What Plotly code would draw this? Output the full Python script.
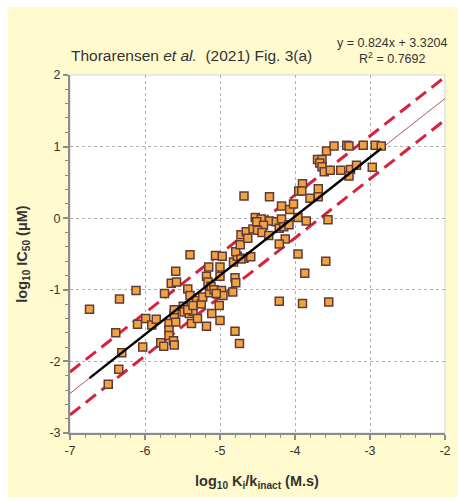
import plotly.graph_objects as go

# Data (log10 Ki/kinact, log10 IC50)
x_vals = [-6.74, -6.49, -6.35, -6.39, -6.34, -6.31, -6.12, -6.10, -6.03, -5.99,
          -5.91, -5.85, -5.79, -5.75, -5.74, -5.68, -5.68, -5.68, -5.62, -5.61,
          -5.59, -5.61, -5.61, -5.65, -5.58, -5.59, -5.40, -5.43, -5.40, -5.49,
          -5.48, -5.41, -5.36, -5.38, -5.31, -5.43, -5.36, -5.25, -5.23, -5.30,
          -5.18, -5.18, -5.15, -5.16, -5.14, -5.11, -5.12, -5.08, -5.06, -5.00,
          -5.00, -5.03, -4.97, -4.98, -5.01, -5.00, -4.96, -5.05, -4.83, -4.80,
          -4.79, -4.80, -4.74, -4.82, -4.77, -4.68, -4.59, -4.79, -4.72, -4.68,
          -4.73, -4.72, -4.65, -4.63, -4.56, -4.53, -4.45, -4.51, -4.34, -4.25,
          -4.18, -4.42, -4.50, -4.44, -4.21, -4.15, -4.08, -4.35, -4.13, -4.21,
          -4.34, -4.18, -4.07, -4.02, -4.21, -3.96, -3.87, -3.90, -3.59, -3.55,
          -3.96, -3.85, -3.56, -3.90, -3.95, -3.91, -3.69, -3.80, -3.69, -3.70,
          -3.64, -3.67, -3.64, -3.61, -3.53, -3.58, -3.48, -3.39, -3.31, -3.28,
          -3.26, -3.18, -3.28, -3.09, -2.97, -2.93, -2.85]
y_vals = [-1.27, -2.32, -2.11, -1.60, -1.13, -1.88, -1.01, -1.48, -1.80, -1.40,
          -1.49, -1.41, -1.74, -1.79, -1.05, -1.47, -1.56, -1.64, -1.71, -1.77,
          -1.45, -1.34, -1.28, -0.91, -0.89, -0.74, -0.51, -0.99, -1.08, -1.23,
          -1.31, -1.33, -1.30, -1.47, -1.15, -1.28, -1.22, -1.20, -1.10, -1.40,
          -1.51, -0.81, -0.68, -0.89, -1.04, -1.33, -0.95, -1.00, -0.52, -0.68,
          -0.81, -1.06, -0.53, -1.01, -1.22, -1.43, -1.08, -1.05, -1.03, -0.83,
          -0.90, -1.58, -1.75, -0.61, -0.53, -0.56, -0.54, -0.47, -0.57, 0.31,
          -0.37, -0.23, -0.19, -0.28, -0.15, 0.01, -0.01, -0.05, -0.04, -0.05,
          -0.01, -0.10, -0.17, -0.20, -0.14, -0.12, -0.09, -0.24, -0.29, -0.36,
          0.30, 0.17, 0.12, 0.20, -1.16, -0.50, -0.77, -1.19, -0.60, -1.17,
          0.01, -0.04, -0.02, 0.48, 0.38, 0.38, 0.41, 0.28, 0.30, 0.82,
          0.82, 0.77, 0.72, 0.65, 0.67, 0.94, 1.01, 0.67, 1.02, 1.01,
          0.68, 0.74, 0.59, 1.02, 0.71, 1.02, 1.01]

slope = 0.824
intercept = 3.3204
r2 = 0.7692
band = 0.3
x_range = [-7, -2]
y_range = [-3, 2]
x_ticks = [-7, -6, -5, -4, -3, -2]
y_ticks = [-3, -2, -1, 0, 1, 2]

fit_x = [min(x_vals), max(x_vals)]
fit_y = [slope * v + intercept for v in fit_x]
full_y = [slope * v + intercept for v in x_range]
up_y = [v + band for v in full_y]
lo_y = [v - band for v in full_y]

fig = go.Figure()
fig.add_trace(go.Scatter(x=x_range, y=full_y, mode="lines",
                         line=dict(color="#9b2a2a", width=0.8), hoverinfo="skip"))
fig.add_trace(go.Scatter(x=x_range, y=up_y, mode="lines",
                         line=dict(color="#d8213a", width=3, dash="13px,7px"), hoverinfo="skip"))
fig.add_trace(go.Scatter(x=x_range, y=lo_y, mode="lines",
                         line=dict(color="#d8213a", width=3, dash="13px,7px"), hoverinfo="skip"))
fig.add_trace(go.Scatter(x=x_vals, y=y_vals, mode="markers",
                         marker=dict(symbol="square", size=8, color="#f3a33c",
                                     line=dict(color="#5e3b3f", width=1.5))))
fig.add_trace(go.Scatter(x=fit_x, y=fit_y, mode="lines",
                         line=dict(color="black", width=2.5), hoverinfo="skip"))

L, R, T, B = 70, 8, 75, 68
W, H = 459, 501
pw = W - L - R
ph = H - T - B

def px2paper_x(px):
    return (px - L) / pw

def py2paper_y(py):
    return 1 - (py - T) / ph

font_family = "Liberation Sans, Arial, sans-serif"

fig.update_layout(
    width=W, height=H,
    margin=dict(l=L, r=R, t=T, b=B),
    paper_bgcolor="white",
    plot_bgcolor="white",
    showlegend=False,
    font=dict(family=font_family, size=12, color="#333"),
    shapes=[
        dict(type="rect", xref="paper", yref="paper", layer="below",
             x0=px2paper_x(7), x1=px2paper_x(W + 5), y0=py2paper_y(497), y1=py2paper_y(7),
             fillcolor="#fffbcf", line=dict(width=0)),
        dict(type="rect", xref="paper", yref="paper", layer="below",
             x0=0, x1=1, y0=0, y1=1,
             fillcolor="white", line=dict(color="#d4d4d4", width=1)),
    ],
    annotations=[
        dict(text="Thorarensen <i>et al.</i>  (2021) Fig. 3(a)", xref="paper", yref="paper",
             x=px2paper_x(69), y=py2paper_y(56), xanchor="left", yanchor="middle",
             showarrow=False, font=dict(size=15.5, color="#333")),
        dict(text=f"y = {slope}x + {intercept}<br>R<sup>2</sup> = {r2}", xref="paper", yref="paper",
             x=px2paper_x(398), y=py2paper_y(51), xanchor="center", yanchor="middle",
             showarrow=False, align="center", font=dict(size=12.5, color="#333")),
        dict(text="<b>log<sub>10</sub> K<sub>i</sub>/k<sub>inact</sub> (M.s)</b>", xref="paper", yref="paper",
             x=px2paper_x(260), y=py2paper_y(482), xanchor="center", yanchor="middle",
             showarrow=False, font=dict(size=14.5, color="#333")),
        dict(text="<b>log<sub>10</sub> IC<sub>50</sub> (μM)</b>", xref="paper", yref="paper",
             x=px2paper_x(22), y=py2paper_y(254), xanchor="center", yanchor="middle",
             textangle=-90, showarrow=False, font=dict(size=14.5, color="#333")),
    ],
)

axis_common = dict(
    showline=True, linecolor="#8c8c8c", linewidth=2,
    ticks="outside", ticklen=5, tickcolor="#8c8c8c", tickwidth=1.5,
    showgrid=True, gridcolor="#b0b0b0", gridwidth=1, griddash="dot",
    zeroline=False, autorange=False,
    tickfont=dict(size=12.5, color="#333"),
    minor=dict(dtick=0.2, ticks="outside", ticklen=3, tickcolor="#8c8c8c", tickwidth=1, showgrid=False),
)

fig.update_xaxes(range=x_range, tickvals=x_ticks, ticktext=[str(v) for v in x_ticks], **axis_common)
fig.update_yaxes(range=y_range, tickvals=y_ticks, ticktext=[str(v) for v in y_ticks], **axis_common)

fig.write_html("out.html")
